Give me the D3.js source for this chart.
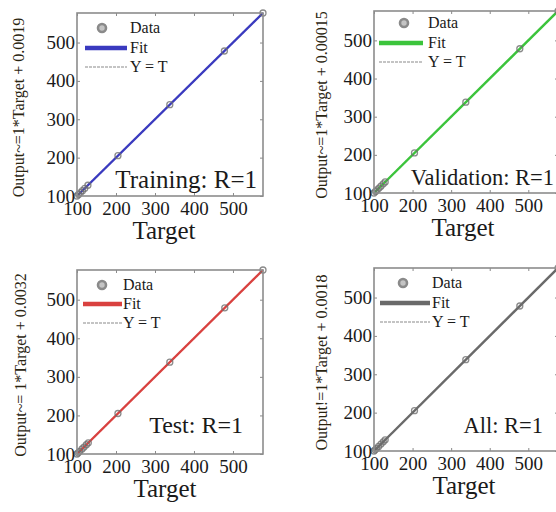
<!DOCTYPE html>
<html><head><meta charset="utf-8">
<script src="https://cdn.jsdelivr.net/npm/d3@7/dist/d3.min.js"></script>
<style>body{margin:0;background:#fff}svg{display:block}svg text{font-family:'Liberation Serif','Times New Roman',serif}</style>
</head><body><svg id="c" width="556" height="512"></svg>
<script>
// ---- data ----
const panelNames = ["Training", "Validation", "Test", "All"];
const panelTitles = ["Training: R=1", "Validation: R=1", "Test: R=1", "All: R=1"];
const yAxisLabels = ["Output~=1*Target + 0.0019", "Output~=1*Target + 0.00015", "Output~= 1*Target + 0.0032", "Output!=1*Target + 0.0018"];
const xAxisLabel = "Target";
const fitSlopes = [1, 1, 1, 1];
const fitIntercepts = [0.0019, 0.00015, 0.0032, 0.0018];
const trainingTargets = [100, 104, 109, 114, 120, 128, 205, 338, 478, 577];
const trainingOutputs = [100, 104, 109, 114, 120, 128, 205, 338, 478, 577];
const validationTargets = [100, 104, 108, 113, 118, 124, 129, 205, 338, 478, 577];
const validationOutputs = [100, 104, 108, 113, 118, 124, 129, 205, 338, 478, 577];
const testTargets = [100, 103, 107, 113, 118, 124, 129, 205, 338, 479, 577];
const testOutputs = [100, 103, 107, 113, 118, 124, 129, 205, 338, 479, 577];
const allTargets = [100, 103, 107, 112, 118, 124, 129, 205, 338, 478, 577];
const allOutputs = [100, 103, 107, 112, 118, 124, 129, 205, 338, 478, 577];
const tickValues = [100, 200, 300, 400, 500];
const axisDomain = [100, 577];
const legendLabels = ["Data", "Fit", "Y = T"];

// ---- styles / layout ----
const fitColors = ["#3a3abf", "#3cc43c", "#d9413f", "#6a6a6a"];
const targetsList = [trainingTargets, validationTargets, testTargets, allTargets];
const outputsList = [trainingOutputs, validationOutputs, testOutputs, allOutputs];
const layout = [
  {left: 77, top: 13, width: 186, height: 183, ylx: 18, tx: 164, titleEnd: 257, titleY: 188, titleSize: 25,
   leg: {mx: 25, my: 15, l0: 8, l1: 50, tx: 53, fy: 35, ty: 54}},
  {left: 374, top: 11, width: 184, height: 182, ylx: 321, tx: 463, titleEnd: 554, titleY: 185, titleSize: 22.5,
   leg: {mx: 30, my: 12, l0: 5, l1: 49, tx: 54, fy: 32, ty: 51}},
  {left: 77, top: 270, width: 186, height: 184, ylx: 20, tx: 165, titleEnd: 243, titleY: 433, titleSize: 24,
   leg: {mx: 25, my: 15, l0: 6, l1: 45, tx: 46, fy: 34, ty: 53}},
  {left: 374, top: 268, width: 184, height: 183, ylx: 321, tx: 464, titleEnd: 543, titleY: 433, titleSize: 22.5,
   leg: {mx: 29, my: 15, l0: 6, l1: 56, tx: 58, fy: 35, ty: 54}}
];
const FONT = "'Liberation Serif', 'Times New Roman', serif";
const TEXT = "#1a1a1a";

const svg = d3.select("#c");

layout.forEach((L, i) => {
  const x = d3.scaleLinear().domain(axisDomain).range([0, L.width]);
  const y = d3.scaleLinear().domain(axisDomain).range([L.height, 0]);
  const g = svg.append("g").attr("transform", `translate(${L.left},${L.top})`);

  // Y = T line (dotted, light)
  g.append("line")
    .attr("x1", x(axisDomain[0])).attr("y1", y(axisDomain[0]))
    .attr("x2", x(axisDomain[1])).attr("y2", y(axisDomain[1]))
    .attr("stroke", "#bdbdbd").attr("stroke-width", 1.5).attr("stroke-dasharray", "2,2");

  // Fit line
  const fy = t => fitSlopes[i] * t + fitIntercepts[i];
  g.append("line")
    .attr("x1", x(axisDomain[0])).attr("y1", y(fy(axisDomain[0])))
    .attr("x2", x(axisDomain[1])).attr("y2", y(fy(axisDomain[1])))
    .attr("stroke", fitColors[i]).attr("stroke-width", 2.4);

  // Data points
  const pts = targetsList[i].map((t, k) => [t, outputsList[i][k]]);
  g.selectAll("circle.pt").data(pts).join("circle").attr("class", "pt")
    .attr("cx", d => x(d[0])).attr("cy", d => y(d[1])).attr("r", 3)
    .attr("fill", "none").attr("stroke", "#6e6e6e").attr("stroke-width", 1.3).attr("opacity", 0.8);

  // axes (ticks inside)
  const styleAxis = (sel) => {
    sel.attr("font-family", null);
    sel.select(".domain").remove();
    sel.selectAll(".tick line").attr("stroke", "#8a8a8a").attr("stroke-width", 1);
    sel.selectAll("text").style("font-family", FONT).attr("fill", TEXT).attr("font-size", 19);
  };
  g.append("g").attr("transform", `translate(0,${L.height})`)
    .call(d3.axisBottom(x).tickValues(tickValues).tickSize(-3).tickPadding(6))
    .call(styleAxis);
  g.append("g")
    .call(d3.axisLeft(y).tickValues(tickValues).tickSize(-3).tickPadding(2))
    .call(styleAxis);
  g.append("g")
    .call(d3.axisTop(x).tickValues(tickValues).tickSize(-3).tickFormat(""))
    .call(styleAxis);
  g.append("g").attr("transform", `translate(${L.width},0)`)
    .call(d3.axisRight(y).tickValues(tickValues).tickSize(-3).tickFormat(""))
    .call(styleAxis);

  // box
  g.append("rect").attr("x", 0).attr("y", 0).attr("width", L.width).attr("height", L.height)
    .attr("fill", "none").attr("stroke", "#8c8c8c").attr("stroke-width", 1.6);

  // legend
  const lg = L.leg;
  g.append("circle").attr("cx", lg.mx).attr("cy", lg.my).attr("r", 4)
    .attr("fill", "#c4c4c4").attr("stroke", "#8a8a8a").attr("stroke-width", 2.6);
  g.append("line").attr("x1", lg.l0).attr("x2", lg.l1).attr("y1", lg.fy).attr("y2", lg.fy)
    .attr("stroke", fitColors[i]).attr("stroke-width", 4.5);
  g.append("line").attr("x1", lg.l0).attr("x2", lg.l1).attr("y1", lg.ty).attr("y2", lg.ty)
    .attr("stroke", "#c4c4c4").attr("stroke-width", 2.2).attr("stroke-dasharray", "3,1");
  const legY = [lg.my, lg.fy, lg.ty];
  g.selectAll("text.leg").data(legendLabels).join("text").attr("class", "leg")
    .attr("x", lg.tx).attr("y", (d, k) => legY[k] + 5)
    .style("font-family", FONT).attr("font-size", 16).attr("fill", TEXT).text(d => d);

  // panel title inside
  svg.append("text").attr("x", L.titleEnd).attr("y", L.titleY)
    .attr("text-anchor", "end").style("font-family", FONT).attr("font-size", L.titleSize)
    .attr("fill", TEXT).text(panelTitles[i]);

  // x label
  svg.append("text").attr("x", L.tx).attr("y", L.top + L.height + 43)
    .attr("text-anchor", "middle").style("font-family", FONT).attr("font-size", 25)
    .attr("fill", TEXT).text(xAxisLabel);

  // y label
  const cy = L.top + L.height / 2 + 3;
  svg.append("text").attr("transform", `translate(${L.ylx},${cy}) rotate(-90)`)
    .attr("text-anchor", "middle").attr("dy", "0.35em").style("font-family", FONT).attr("font-size", 16)
    .attr("fill", "#2a2410").text(yAxisLabels[i]);
});
</script></body></html>
